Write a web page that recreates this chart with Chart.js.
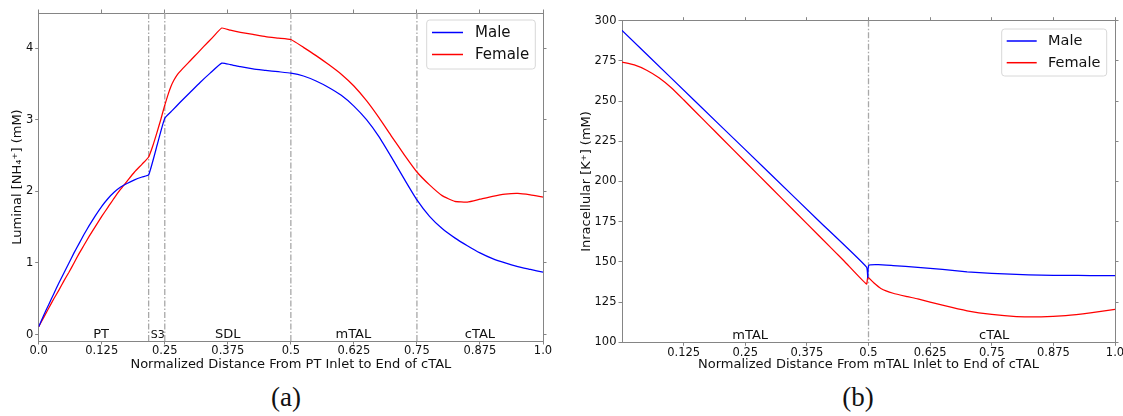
<!DOCTYPE html>
<html><head><meta charset="utf-8">
<script src="https://cdn.jsdelivr.net/npm/chart.js@4.4.1/dist/chart.umd.min.js"></script>
<style>
html,body{margin:0;padding:0;background:#fff;overflow:hidden;width:1123px;height:416px;}
#c1{position:absolute;left:0;top:0;}
#c2{position:absolute;left:561px;top:0;}
.cap{position:absolute;width:100px;text-align:center;font-family:"Liberation Serif",serif;font-size:27px;line-height:27px;color:#111;}
</style></head><body>
<canvas id="c1" width="561" height="380"></canvas>
<canvas id="c2" width="580" height="380"></canvas>
<div class="cap" style="left:236px;top:384px">(a)</div>
<div class="cap" style="left:808px;top:384px">(b)</div>
<script>
// ---------- data: panel (a) luminal NH4+ ----------
const maleLX = [0, 0.01, 0.02, 0.03, 0.04, 0.05, 0.06, 0.07, 0.08, 0.09, 0.1, 0.1125, 0.125, 0.1375, 0.15, 0.1625, 0.175, 0.19, 0.205, 0.218, 0.235, 0.25, 0.265, 0.28, 0.3, 0.32, 0.34, 0.363, 0.38, 0.4, 0.425, 0.45, 0.475, 0.5, 0.525, 0.55, 0.575, 0.6, 0.625, 0.65, 0.675, 0.7, 0.725, 0.75, 0.775, 0.8, 0.825, 0.85, 0.875, 0.9, 0.925, 0.95, 0.975, 1.0];
const maleLY = [0.11, 0.27, 0.42, 0.57, 0.72, 0.86, 1.00, 1.14, 1.27, 1.40, 1.52, 1.66, 1.79, 1.90, 1.99, 2.06, 2.11, 2.16, 2.20, 2.23, 2.65, 3.02, 3.13, 3.24, 3.38, 3.52, 3.65, 3.79, 3.77, 3.74, 3.71, 3.69, 3.67, 3.65, 3.61, 3.54, 3.45, 3.34, 3.19, 3.00, 2.76, 2.47, 2.17, 1.88, 1.65, 1.48, 1.35, 1.24, 1.14, 1.06, 1.00, 0.95, 0.91, 0.87];
const femLX = [0, 0.01, 0.02, 0.03, 0.04, 0.05, 0.06, 0.07, 0.08, 0.09, 0.1, 0.1125, 0.125, 0.1375, 0.15, 0.1625, 0.175, 0.19, 0.205, 0.218, 0.226, 0.234, 0.242, 0.249, 0.256, 0.262, 0.268, 0.275, 0.285, 0.3, 0.315, 0.327, 0.345, 0.363, 0.38, 0.4, 0.425, 0.45, 0.475, 0.5, 0.525, 0.55, 0.575, 0.6, 0.625, 0.65, 0.675, 0.7, 0.725, 0.75, 0.775, 0.8, 0.825, 0.85, 0.875, 0.9, 0.925, 0.95, 0.975, 1.0];
const femLY = [0.11, 0.24, 0.37, 0.50, 0.62, 0.75, 0.87, 1.00, 1.13, 1.25, 1.37, 1.51, 1.65, 1.78, 1.91, 2.03, 2.14, 2.27, 2.38, 2.48, 2.63, 2.81, 3.00, 3.18, 3.34, 3.46, 3.55, 3.63, 3.71, 3.82, 3.93, 4.02, 4.15, 4.28, 4.25, 4.22, 4.19, 4.16, 4.14, 4.12, 4.01, 3.895, 3.77, 3.635, 3.47, 3.265, 3.025, 2.765, 2.51, 2.27, 2.09, 1.94, 1.86, 1.85, 1.89, 1.93, 1.96, 1.97, 1.95, 1.92];
const leftXTicks = [0, 0.125, 0.25, 0.375, 0.5, 0.625, 0.75, 0.875, 1];
const leftXLabels = ['0.0', '0.125', '0.25', '0.375', '0.5', '0.625', '0.75', '0.875', '1.0'];
const leftYTicks = [0, 1, 2, 3, 4];
const leftBoundaries = [0.218, 0.25, 0.5, 0.75];
const leftRegions = ['PT', 'S3', 'SDL', 'mTAL', 'cTAL'];
const leftRegionX = [0.1236, 0.236, 0.375, 0.624, 0.875];

// ---------- data: panel (b) intracellular K+ ----------
const maleRX = [0, 0.1, 0.2, 0.3, 0.4, 0.496, 0.4985, 0.5005, 0.52, 0.55, 0.6, 0.65, 0.7, 0.75, 0.8, 0.85, 0.9, 0.95, 1.0];
const maleRY = [294, 264.3, 234.6, 205, 175.3, 146.8, 140.2, 147.9, 148.3, 147.7, 146.6, 145.3, 143.8, 142.8, 142.2, 141.8, 141.6, 141.5, 141.5];
const femRX = [0, 0.025, 0.05, 0.075, 0.1, 0.125, 0.15, 0.175, 0.2, 0.25, 0.3, 0.35, 0.4, 0.45, 0.496, 0.4985, 0.51, 0.525, 0.55, 0.579, 0.6, 0.65, 0.7, 0.75, 0.8, 0.85, 0.9, 0.95, 1.0];
const femRY = [274.2, 272.5, 269.2, 264.5, 258.3, 250.8, 243.1, 235.4, 227.7, 212.3, 196.9, 181.5, 166.1, 150.7, 136.2, 140.5, 137.2, 133.5, 130.5, 128.4, 127, 123.1, 119.6, 117.3, 116, 115.8, 116.6, 118.3, 120.5];
const rightXTicks = [0.125, 0.25, 0.375, 0.5, 0.625, 0.75, 0.875, 1];
const rightXLabels = ['0.125', '0.25', '0.375', '0.5', '0.625', '0.75', '0.875', '1.0'];
const rightYTicks = [100, 125, 150, 175, 200, 225, 250, 275, 300];
const rightBoundaries = [0.5];
const rightRegions = ['mTAL', 'cTAL'];
const rightRegionX = [0.26, 0.755];

const seriesNames = ['Male', 'Female'];
const seriesColors = ['#0000ff', '#ff0000'];

// ---------- helpers ----------
const FONT = 'DejaVu Sans';
const AX = '#858585';
const TXT = '#111';
const toXY = (xs, ys) => xs.map((x, i) => ({x: x, y: ys[i]}));

const boundaryLines = {
  id: 'boundaryLines',
  beforeDatasetsDraw(chart, args, o) {
    const {ctx, chartArea: {top, bottom}, scales: {x}} = chart;
    ctx.save();
    ctx.strokeStyle = '#a8a8a8'; ctx.lineWidth = 1.3; ctx.setLineDash([6, 2, 1.5, 2]);
    o.values.forEach(v => {
      const px = x.getPixelForValue(v);
      ctx.beginPath(); ctx.moveTo(px, top); ctx.lineTo(px, bottom); ctx.stroke();
    });
    ctx.restore();
  }
};
const regionLabels = {
  id: 'regionLabels',
  afterDatasetsDraw(chart, args, o) {
    const {ctx, chartArea: {bottom}, scales: {x}} = chart;
    ctx.save(); ctx.fillStyle = TXT; ctx.textAlign = 'center'; ctx.textBaseline = 'alphabetic';
    o.labels.forEach((t, i) => {
      ctx.font = (t === 'S3' ? 11 : 13) + 'px "' + FONT + '"';
      ctx.fillText(t, x.getPixelForValue(o.positions[i]), bottom - 3);
    });
    ctx.restore();
  }
};
const boxLegend = {
  id: 'boxLegend',
  afterDraw(chart, args, o) {
    const ctx = chart.ctx;
    ctx.save();
    ctx.beginPath(); ctx.roundRect(o.x, o.y, o.w, o.h, 3);
    ctx.fillStyle = 'rgba(255,255,255,0.85)'; ctx.fill();
    ctx.strokeStyle = '#d8d8d8'; ctx.lineWidth = 1; ctx.stroke();
    chart.data.datasets.forEach((ds, i) => {
      const cy = o.rowY[i];
      ctx.strokeStyle = ds.borderColor; ctx.lineWidth = 1.5;
      ctx.beginPath(); ctx.moveTo(o.lineX0, cy); ctx.lineTo(o.lineX1, cy); ctx.stroke();
      ctx.fillStyle = TXT; ctx.font = o.fontSize + 'px "' + FONT + '"';
      ctx.textBaseline = 'middle'; ctx.textAlign = 'left';
      ctx.fillText(ds.label, o.textX, cy + 0.5);
    });
    ctx.restore();
  }
};

function makeChart(id, c) {
  const tickFont = {family: FONT, size: 11.5};
  const titleFont = {family: FONT, size: 13};
  const gridBase = {drawOnChartArea: false, drawTicks: true, tickLength: 3.5, color: AX, lineWidth: 1};
  const border = {display: true, color: AX, width: 1};
  return new Chart(document.getElementById(id), {
    type: 'line',
    data: {
      datasets: c.series.map((s, i) => ({
        label: seriesNames[i], data: toXY(s[0], s[1]), borderColor: seriesColors[i],
        borderWidth: 1.25, pointRadius: 0, fill: false, tension: 0.15
      }))
    },
    options: {
      responsive: false, animation: false, events: [],
      layout: {padding: 0},
      plugins: {
        legend: {display: false}, tooltip: {enabled: false},
        boundaryLines: {values: c.boundaries},
        regionLabels: {labels: c.regions, positions: c.regionX},
        boxLegend: c.legend
      },
      scales: {
        x: {
          type: 'linear', position: 'bottom', min: 0, max: 1,
          afterFit: s => { s.height = c.bottomH; },
          afterBuildTicks: s => { s.ticks = c.xTicks.map(v => ({value: v})); },
          ticks: {autoSkip: false, maxRotation: 0, minRotation: 0, padding: 0, color: TXT, font: tickFont,
                  callback: (v, i) => c.xLabels[i]},
          grid: gridBase, border: border,
          title: {display: true, text: c.xTitle, color: TXT, font: titleFont, padding: {top: 0, bottom: 7.2}}
        },
        x2: {
          type: 'linear', position: 'top', min: 0, max: 1,
          afterFit: s => { s.height = c.topH; },
          afterBuildTicks: s => { s.ticks = c.xTicks.map(v => ({value: v})); },
          ticks: {display: false},
          grid: gridBase, border: border
        },
        y: {
          type: 'linear', position: 'left', min: c.yMin, max: c.yMax,
          afterFit: s => { s.width = c.leftW; },
          afterBuildTicks: s => { s.ticks = c.yTicks.map(v => ({value: v})); },
          ticks: {padding: 2, color: TXT, font: tickFont, callback: v => String(v)},
          grid: gridBase, border: border,
          title: {display: true, text: c.yTitle, color: TXT, font: titleFont, padding: {top: c.yTitlePad, bottom: 0}}
        },
        y2: {
          type: 'linear', position: 'right', min: c.yMin, max: c.yMax,
          afterFit: s => { s.width = c.rightW; },
          afterBuildTicks: s => { s.ticks = c.yTicks.map(v => ({value: v})); },
          ticks: {display: false},
          grid: gridBase, border: border
        }
      }
    },
    plugins: [boundaryLines, regionLabels, boxLegend]
  });
}

makeChart('c1', {
  series: [[maleLX, maleLY], [femLX, femLY]],
  xTicks: leftXTicks, xLabels: leftXLabels, yTicks: leftYTicks,
  yMin: -0.09, yMax: 4.49,
  leftW: 38.7, rightW: 18, topH: 13, bottomH: 39,
  xTitle: 'Normalized Distance From PT Inlet to End of cTAL',
  yTitle: 'Luminal [NH\u2084\u207A] (mM)', yTitlePad: 10,
  boundaries: leftBoundaries, regions: leftRegions, regionX: leftRegionX,
  legend: {x: 426.7, y: 20, w: 108.6, h: 49, lineX0: 432, lineX1: 463, textX: 475, rowY: [32.5, 54.5], fontSize: 15}
});
makeChart('c2', {
  series: [[maleRX, maleRY], [femRX, femRY]],
  xTicks: rightXTicks, xLabels: rightXLabels, yTicks: rightYTicks,
  yMin: 100, yMax: 300,
  leftW: 61, rightW: 26, topH: 20.7, bottomH: 37.7,
  xTitle: 'Normalized Distance From mTAL Inlet to End of cTAL',
  yTitle: 'Inracellular [K\u207A] (mM)', yTitlePad: 18.3,
  boundaries: rightBoundaries, regions: rightRegions, regionX: rightRegionX,
  legend: {x: 440.7, y: 29, w: 105, h: 47, lineX0: 445.7, lineX1: 475.7, textX: 487, rowY: [41, 62.7], fontSize: 14.5}
});
</script>
</body></html>
